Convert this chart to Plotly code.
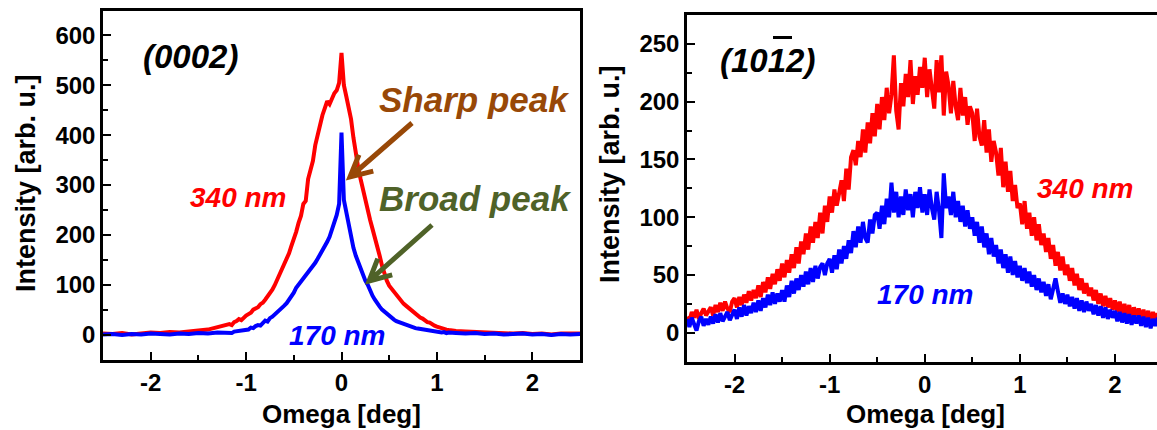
import plotly.graph_objects as go
import math

# ---------------- data: left panel (0002) ----------------
omega_0002 = [
    -2.5, -2.4, -2.3, -2.2, -2.1, -2.0, -1.9, -1.8, -1.7, -1.6, -1.5, -1.4, -1.3,
    -1.2, -1.175, -1.15, -1.125, -1.1, -1.075, -1.05, -1.025, -1.0,
    -0.975, -0.95, -0.925, -0.9, -0.875, -0.85, -0.825, -0.8,
    -0.775, -0.75, -0.725, -0.7, -0.675, -0.65, -0.625, -0.6,
    -0.575, -0.55, -0.525, -0.5, -0.475, -0.45, -0.425, -0.4,
    -0.375, -0.35, -0.325, -0.3, -0.275, -0.25, -0.225, -0.2,
    -0.175, -0.15, -0.125, -0.1, -0.075, -0.05, -0.025,
    0.0,
    0.025, 0.05, 0.075, 0.1, 0.125, 0.15, 0.175, 0.2,
    0.225, 0.25, 0.275, 0.3, 0.325, 0.35, 0.375, 0.4,
    0.425, 0.45, 0.475, 0.5, 0.525, 0.55, 0.575, 0.6,
    0.625, 0.65, 0.675, 0.7, 0.725, 0.75, 0.775, 0.8,
    0.825, 0.85, 0.875, 0.9, 0.925, 0.95, 0.975, 1.0,
    1.025, 1.05, 1.075, 1.1, 1.125, 1.15, 1.175, 1.2,
    1.3, 1.4, 1.5, 1.6, 1.7, 1.8, 1.9, 2.0, 2.1, 2.2, 2.3, 2.4, 2.5,
]
int_0002_340nm = [
    2, 1, 3, 0, 2, 4, 3, 5, 4, 7, 8, 10, 14,
    18, 21, 19, 25, 27, 31, 29, 35, 38,
    41, 44, 50, 53, 55, 61, 64, 70,
    76, 82, 90, 99, 110, 119, 128, 141,
    152, 163, 178, 190, 206, 224, 238, 262,
    268, 312, 330, 348, 380, 405, 420, 440,
    455, 468, 462, 476, 484, 490, 505,
    565,
    500, 478, 456, 432, 395, 360, 335, 312,
    290, 272, 250, 230, 212, 196, 175, 158,
    138, 120, 108, 98, 92, 86, 80, 72,
    66, 62, 58, 54, 50, 45, 42, 38,
    34, 32, 28, 25, 24, 20, 18, 16,
    14, 12, 12, 10, 9, 8, 8, 7,
    6, 5, 4, 3, 4, 2, 3, 1, 2, 0, 2, 1, 2,
]
int_0002_170nm = [
    0, 1, -1, 1, 0, 2, 1, 0, 2, 1, 3, 2, 4,
    4, 5, 3, 6, 7, 6, 9, 8, 11,
    10, 14, 13, 17, 19, 18, 24, 28,
    26, 33, 36, 40, 44, 49, 52, 58,
    63, 70, 76, 84, 94, 100, 106, 114,
    120, 126, 131, 138, 144, 152, 160, 170,
    178, 186, 196, 210, 222, 240, 262,
    405,
    270, 244, 215, 192, 174, 158, 145, 132,
    120, 108, 100, 88, 78, 70, 62, 56,
    50, 46, 42, 36, 33, 30, 27, 25,
    23, 21, 20, 18, 16, 15, 13, 12,
    11, 10, 9, 9, 8, 7, 6, 6,
    5, 4, 5, 3, 4, 3, 2, 3,
    2, 3, 1, 2, 0, 1, 2, 0, 1, -1, 1, 0, 1,
]

# ---------------- data: right panel (10-12) ----------------
omega_1012 = [
    -2.5, -2.475, -2.45, -2.425, -2.4, -2.375, -2.35, -2.325, -2.3, -2.275,
    -2.25, -2.225, -2.2, -2.175, -2.15, -2.125, -2.1, -2.075, -2.05, -2.025,
    -2.0, -1.975, -1.95, -1.925, -1.9, -1.875, -1.85, -1.825, -1.8, -1.775,
    -1.75, -1.725, -1.7, -1.675, -1.65, -1.625, -1.6, -1.575, -1.55, -1.525,
    -1.5, -1.475, -1.45, -1.425, -1.4, -1.375, -1.35, -1.325, -1.3, -1.275,
    -1.25, -1.225, -1.2, -1.175, -1.15, -1.125, -1.1, -1.075, -1.05, -1.025,
    -1.0, -0.975, -0.95, -0.925, -0.9, -0.875, -0.85, -0.825, -0.8, -0.775,
    -0.75, -0.725, -0.7, -0.675, -0.65, -0.625, -0.6, -0.575, -0.55, -0.525,
    -0.5, -0.475, -0.45, -0.425, -0.4, -0.375, -0.35, -0.325, -0.3, -0.275,
    -0.25, -0.225, -0.2, -0.175, -0.15, -0.125, -0.1, -0.075, -0.05, -0.025,
    0.0, 0.025, 0.05, 0.075, 0.1, 0.125, 0.15, 0.175, 0.2, 0.225,
    0.25, 0.275, 0.3, 0.325, 0.35, 0.375, 0.4, 0.425, 0.45, 0.475,
    0.5, 0.525, 0.55, 0.575, 0.6, 0.625, 0.65, 0.675, 0.7, 0.725,
    0.75, 0.775, 0.8, 0.825, 0.85, 0.875, 0.9, 0.925, 0.95, 0.975,
    1.0, 1.025, 1.05, 1.075, 1.1, 1.125, 1.15, 1.175, 1.2, 1.225,
    1.25, 1.275, 1.3, 1.325, 1.35, 1.375, 1.4, 1.425, 1.45, 1.475,
    1.5, 1.525, 1.55, 1.575, 1.6, 1.625, 1.65, 1.675, 1.7, 1.725,
    1.75, 1.775, 1.8, 1.825, 1.85, 1.875, 1.9, 1.925, 1.95, 1.975,
    2.0, 2.025, 2.05, 2.075, 2.1, 2.125, 2.15, 2.175, 2.2, 2.225,
    2.25, 2.275, 2.3, 2.325, 2.35, 2.375, 2.4, 2.425, 2.45,
]
int_1012_340nm = [
    14, 10, 18, 13, 20, 12, 17, 21, 15, 19,
    22, 15, 24, 18, 26, 19, 27, 21, 18, 27,
    30, 22, 31, 24, 33, 26, 36, 28, 37, 30,
    41, 31, 44, 35, 48, 38, 51, 42, 55, 45,
    60, 48, 63, 52, 68, 56, 74, 60, 79, 68,
    86, 72, 92, 78, 96, 82, 104, 86, 110, 96,
    118, 104, 124, 110, 120, 132, 114, 142, 124, 152,
    158, 145, 166, 152, 176, 156, 182, 164, 190, 170,
    198, 176, 204, 184, 212, 190, 206, 240, 192, 176,
    216, 196, 224, 204, 236, 198, 222, 206, 230, 212,
    238, 204, 228, 210, 194, 236, 208, 240, 188, 226,
    214, 190, 218, 196, 184, 212, 188, 204, 180, 196,
    190, 166, 194, 170, 162, 184, 156, 176, 148, 166,
    156, 136, 160, 126, 148, 122, 140, 114, 128, 108,
    112, 94, 114, 90, 104, 84, 100, 80, 94, 76,
    86, 70, 82, 64, 76, 58, 70, 54, 66, 50,
    59, 45, 56, 41, 51, 37, 47, 34, 43, 32,
    39, 28, 37, 25, 34, 23, 32, 22, 30, 20,
    28, 18, 27, 16, 25, 15, 24, 14, 22, 15,
    21, 12, 20, 11, 19, 10, 18, 11, 17,
]
int_1012_170nm = [
    12, 5, 13, 7, 2, 10, 14, 6, 12, 7,
    14, 8, 16, 9, 17, 10, 15, 18, 11, 16,
    20, 12, 22, 14, 24, 15, 23, 17, 26, 18,
    28, 19, 30, 22, 33, 24, 35, 25, 34, 27,
    37, 27, 41, 31, 45, 34, 47, 37, 50, 40,
    53, 42, 56, 44, 58, 47, 57, 60, 50, 60,
    64, 52, 67, 55, 72, 60, 75, 64, 80, 69,
    88, 74, 92, 78, 96, 82, 78, 98, 86, 102,
    104, 90, 110, 94, 116, 100, 130, 104, 122, 100,
    118, 102, 124, 106, 120, 100, 122, 108, 126, 104,
    120, 102, 124, 108, 98, 122, 106, 82, 138, 108,
    118, 102, 122, 100, 114, 96, 110, 92, 106, 90,
    100, 84, 96, 78, 92, 74, 86, 68, 82, 66,
    76, 60, 72, 56, 68, 52, 66, 50, 62, 48,
    58, 45, 56, 43, 53, 40, 50, 37, 47, 35,
    44, 32, 42, 29, 39, 47, 36, 26, 34, 25,
    33, 23, 31, 21, 30, 19, 28, 18, 27, 19,
    25, 16, 24, 15, 23, 13, 22, 12, 20, 13,
    19, 10, 18, 9, 17, 8, 16, 7, 15, 8,
    15, 6, 14, 5, 13, 4, 12, 6, 13,
]

x_tick_vals = [-2, -1, 0, 1, 2]
x_tick_text = ["-2", "-1", "0", "1", "2"]
y_ticks_0002 = [0, 100, 200, 300, 400, 500, 600]
y_ticks_1012 = [0, 50, 100, 150, 200, 250]

# ---------------- figure ----------------
W, H = 1157, 430
FONT = "Liberation Sans, Arial, sans-serif"
RED = "#ff0000"
BLUE = "#0000ff"
BROWN = "#984807"
OLIVE = "#4f6228"


def fx(p):
    return p / W


def fy(p):
    return 1 - p / H


def bold(labels):
    return ["<b>" + str(s) + "</b>" for s in labels]


fig = go.Figure()
fig.add_trace(go.Scatter(x=omega_0002, y=int_0002_340nm, mode="lines",
                         line=dict(color=RED, width=4), xaxis="x", yaxis="y"))
fig.add_trace(go.Scatter(x=omega_0002, y=int_0002_170nm, mode="lines",
                         line=dict(color=BLUE, width=4), xaxis="x", yaxis="y"))
fig.add_trace(go.Scatter(x=omega_1012, y=int_1012_340nm, mode="lines",
                         line=dict(color=RED, width=4), xaxis="x2", yaxis="y2"))
fig.add_trace(go.Scatter(x=omega_1012, y=int_1012_170nm, mode="lines",
                         line=dict(color=BLUE, width=4), xaxis="x2", yaxis="y2"))

tickfont = dict(family=FONT, size=24, color="black")
common_x = dict(showgrid=False, zeroline=False, showline=True, linecolor="black",
                linewidth=2.5, ticks="inside", ticklen=8, tickwidth=2,
                tickcolor="black", tickmode="array", tickvals=x_tick_vals,
                ticktext=bold(x_tick_text), tickfont=tickfont,
                minor=dict(ticks="inside", ticklen=5, tickwidth=2,
                           tickcolor="black", dtick=0.5, tick0=0, showgrid=False))
common_y = dict(showgrid=False, zeroline=False, showline=True, linecolor="black",
                linewidth=2.5, ticks="inside", ticklen=8, tickwidth=2,
                tickcolor="black", tickmode="array", tickfont=tickfont)

fig.update_layout(
    width=W, height=H, margin=dict(l=0, r=0, t=0, b=0),
    paper_bgcolor="white", plot_bgcolor="white", showlegend=False,
    xaxis=dict(common_x, domain=[fx(103), fx(580)], range=[-2.5, 2.5],
               anchor="y", mirror=True),
    yaxis=dict(common_y, domain=[fy(359.5), fy(10.5)], range=[-50, 650],
               anchor="x", mirror=True, tickvals=y_ticks_0002,
               ticktext=bold(y_ticks_0002),
               minor=dict(ticks="inside", ticklen=5, tickwidth=2,
                          tickcolor="black", dtick=50, tick0=0, showgrid=False)),
    xaxis2=dict(common_x, domain=[fx(687), 1.0],
                range=[-2.5, (W - 925) / 95.0], anchor="y2", mirror=True),
    yaxis2=dict(common_y, domain=[fy(361.7), fy(15)], range=[-25, 275],
                anchor="x2", mirror=False, tickvals=y_ticks_1012,
                ticktext=bold(y_ticks_1012),
                minor=dict(ticks="inside", ticklen=5, tickwidth=2,
                           tickcolor="black", dtick=25, tick0=0, showgrid=False)),
)

anns = []


def label(text, cx, cy, size, color="black", angle=0, bold=True, italic=False):
    t = text
    if bold:
        t = "<b>" + t + "</b>"
    if italic:
        t = "<i>" + t + "</i>"
    anns.append(dict(text=t, x=fx(cx), y=fy(cy), xref="paper", yref="paper",
                     xanchor="center", yanchor="middle", showarrow=False,
                     textangle=angle,
                     font=dict(family=FONT, size=size, color=color)))


# axis titles
label("Intensity [arb. u.]", 26, 183, 27, angle=-90)
label("Intensity [arb. u.]", 610, 174, 27, angle=-90)
label("Omega [deg]", 341, 414, 26)
label("Omega [deg]", 925, 414, 26)

# panel labels
label("(0002)", 190, 56, 33, italic=True)
label("(1012)", 767, 61, 33, italic=True)

# curve labels
label("340 nm", 238, 197, 28, color=RED, italic=True)
label("170 nm", 337, 335, 28, color=BLUE, italic=True)
label("340 nm", 1085, 188, 28, color=RED, italic=True)
label("170 nm", 925, 294, 28, color=BLUE, italic=True)
label("Sharp peak", 474, 99, 35, color=BROWN, italic=True)
label("Broad peak", 475, 198, 35, color=OLIVE, italic=True)

fig.update_layout(annotations=anns)

shapes = []
# overbar on the "1" of (1012)
shapes.append(dict(type="line", xref="paper", yref="paper",
                   x0=fx(773), x1=fx(792), y0=fy(37.5), y1=fy(37.5),
                   line=dict(color="black", width=3)))


def arrow(tail, tip, color, wing=24, ang=27):
    dx, dy = tail[0] - tip[0], tail[1] - tip[1]
    L = math.hypot(dx, dy)
    ux, uy = dx / L, dy / L
    pts = []
    for s in (1, -1):
        a = math.radians(ang * s)
        wx = ux * math.cos(a) - uy * math.sin(a)
        wy = ux * math.sin(a) + uy * math.cos(a)
        pts.append((tip[0] + wing * wx, tip[1] + wing * wy))
    path = (f"M {fx(tail[0])},{fy(tail[1])} L {fx(tip[0])},{fy(tip[1])} "
            f"M {fx(pts[0][0])},{fy(pts[0][1])} L {fx(tip[0])},{fy(tip[1])} "
            f"L {fx(pts[1][0])},{fy(pts[1][1])}")
    shapes.append(dict(type="path", xref="paper", yref="paper", path=path,
                       line=dict(color=color, width=5)))


arrow((412, 123), (350, 177), BROWN)
arrow((432, 225), (369, 281), OLIVE)

fig.update_layout(shapes=shapes)

fig.write_html("out.html", config={"displayModeBar": False},
               post_script="document.body.style.margin='0';document.body.style.overflow='hidden';")
